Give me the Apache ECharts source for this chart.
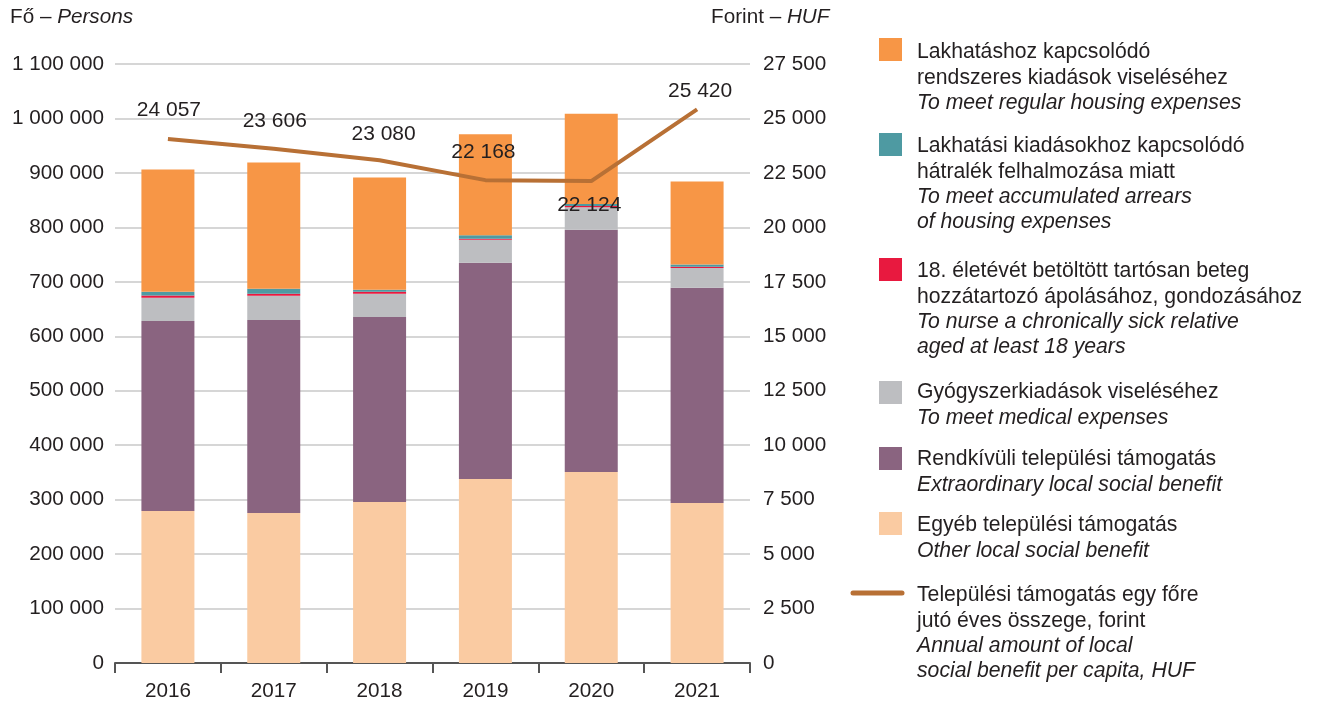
<!DOCTYPE html>
<html>
<head>
<meta charset="utf-8">
<script src="https://cdn.jsdelivr.net/npm/echarts@6/dist/echarts.min.js"></script>
<style>
html,body{margin:0;padding:0;background:#fff;}
#chart{width:1319px;height:704px;}
</style>
</head>
<body>
<div id="chart"></div>
<script>
const years = ['2016','2017','2018','2019','2020','2021'];
const otherBenefit = [279000, 275500, 295700, 338000, 350900, 293900];
const extraordinary = [349200, 354600, 339900, 397000, 444800, 395100];
const medical = [42400, 44100, 42300, 42300, 41100, 36200];
const nursing = [4200, 3700, 3700, 2000, 2500, 2400];
const arrears = [6800, 9200, 3700, 6200, 3700, 4300];
const housing = [224500, 231900, 206100, 185300, 165600, 152100];
const perCapita = [24057, 23606, 23080, 22168, 22124, 25420];
const leftTicks = {min: 0, max: 1100000, interval: 100000};
const rightTicks = {min: 0, max: 27500, interval: 2500};

const legendTexts = [
  {hu: ['Lakhatáshoz kapcsolódó', 'rendszeres kiadások viseléséhez'], en: ['To meet regular housing expenses']},
  {hu: ['Lakhatási kiadásokhoz kapcsolódó', 'hátralék felhalmozása miatt'], en: ['To meet accumulated arrears', 'of housing expenses']},
  {hu: ['18. életévét betöltött tartósan beteg', 'hozzátartozó ápolásához, gondozásához'], en: ['To nurse a chronically sick relative', 'aged at least 18 years']},
  {hu: ['Gyógyszerkiadások viseléséhez'], en: ['To meet medical expenses']},
  {hu: ['Rendkívüli települési támogatás'], en: ['Extraordinary local social benefit']},
  {hu: ['Egyéb települési támogatás'], en: ['Other local social benefit']},
  {hu: ['Települési támogatás egy főre', 'jutó éves összege, forint'], en: ['Annual amount of local', 'social benefit per capita, HUF']}
];

const colors = {
  housing: '#F79646', arrears: '#4E9AA2', nursing: '#E8193F', medical: '#BDBEC1',
  extraordinary: '#8A6480', other: '#FACBA2', line: '#B87035'
};
const FONT = '"Liberation Sans", Arial, sans-serif';
const TXT = '#231f20';
const AX_FS = 20.7;
const LG_FS = 21.2;
const fmt = v => String(v).replace(/\B(?=(\d{3})+(?!\d))/g, ' ');

// label placement for line values (pixel offsets)
const lineLabelOffsets = [[1,-29],[1,-28],[4,-26],[-2,-28],[-2,24],[3,-18]];

const chart = echarts.init(document.getElementById('chart'));

function barSeries(name, data, color) {
  return {name, type: 'bar', stack: 'total', data, barWidth: 53,
    itemStyle: {color}, emphasis: {disabled: true}};
}

const legendOrder = [
  {color: colors.housing, sq: 38, top: 42},
  {color: colors.arrears, sq: 133, top: 136},
  {color: colors.nursing, sq: 258, top: 261},
  {color: colors.medical, sq: 381, top: 382},
  {color: colors.extraordinary, sq: 447, top: 449},
  {color: colors.other, sq: 512, top: 515},
  {color: colors.line, sq: 593, top: 585, line: true}
];
const graphics = [
  {type: 'text', left: 10, top: 7, style: {
    text: '{r|Fő – }{i|Persons}', rich: {
      r: {fontFamily: FONT, fontSize: AX_FS, fill: TXT},
      i: {fontFamily: FONT, fontSize: AX_FS, fill: TXT, fontStyle: 'italic'}}}},
  {type: 'text', left: 711, top: 7, style: {
    text: '{r|Forint – }{i|HUF}', rich: {
      r: {fontFamily: FONT, fontSize: AX_FS, fill: TXT},
      i: {fontFamily: FONT, fontSize: AX_FS, fill: TXT, fontStyle: 'italic'}}}}
];
legendOrder.forEach((it, k) => {
  if (it.line) {
    graphics.push({type: 'line', shape: {x1: 853, y1: it.sq, x2: 902, y2: it.sq},
      style: {stroke: it.color, lineWidth: 5, lineCap: 'round'}});
  } else {
    graphics.push({type: 'rect', shape: {x: 879, y: it.sq, width: 23, height: 23},
      style: {fill: it.color}});
  }
  const lt = legendTexts[k];
  const str = lt.hu.map(s => '{r|' + s + '}').concat(lt.en.map(s => '{i|' + s + '}')).join('\n');
  graphics.push({type: 'text', left: 917, top: it.top, style: {
    text: str, rich: {
      r: {fontFamily: FONT, fontSize: LG_FS, fill: TXT, lineHeight: 25.3},
      i: {fontFamily: FONT, fontSize: LG_FS, fill: TXT, fontStyle: 'italic', lineHeight: 25.3}}}});
});

chart.setOption({
  animation: false,
  textStyle: {fontFamily: FONT},
  grid: {left: 115, right: 569, top: 64, bottom: 41, containLabel: false},
  xAxis: {
    type: 'category', data: years,
    axisLine: {lineStyle: {color: '#555', width: 2}},
    axisTick: {show: true, length: 10, lineStyle: {color: '#555', width: 2}},
    axisLabel: {color: TXT, fontSize: AX_FS, margin: 18, fontFamily: FONT}
  },
  yAxis: [
    {type: 'value', min: leftTicks.min, max: leftTicks.max, interval: leftTicks.interval,
     axisLine: {show: false}, axisTick: {show: false},
     splitLine: {lineStyle: {color: '#c8c8c8', width: 1.5}},
     axisLabel: {color: TXT, fontSize: AX_FS, margin: 11, fontFamily: FONT, formatter: fmt}},
    {type: 'value', min: rightTicks.min, max: rightTicks.max, interval: rightTicks.interval,
     axisLine: {show: false}, axisTick: {show: false}, splitLine: {show: false},
     axisLabel: {color: TXT, fontSize: AX_FS, margin: 13, fontFamily: FONT, formatter: fmt}}
  ],
  series: [
    barSeries('Egyéb', otherBenefit, colors.other),
    barSeries('Rendkívüli', extraordinary, colors.extraordinary),
    barSeries('Gyógyszer', medical, colors.medical),
    barSeries('Ápolás', nursing, colors.nursing),
    barSeries('Hátralék', arrears, colors.arrears),
    barSeries('Lakhatás', housing, colors.housing),
    {name: 'Egy főre', type: 'line', yAxisIndex: 1, z: 5,
     data: perCapita.map((v, i) => ({value: v, label: {offset: lineLabelOffsets[i]}})),
     symbol: 'circle', symbolSize: 0.1, showSymbol: true,
     lineStyle: {color: colors.line, width: 4}, itemStyle: {color: colors.line},
     label: {show: true, position: 'inside', fontSize: 21, color: TXT, fontFamily: FONT,
       formatter: p => fmt(p.value)},
     emphasis: {disabled: true}}
  ],
  graphic: graphics
});
</script>
</body>
</html>
